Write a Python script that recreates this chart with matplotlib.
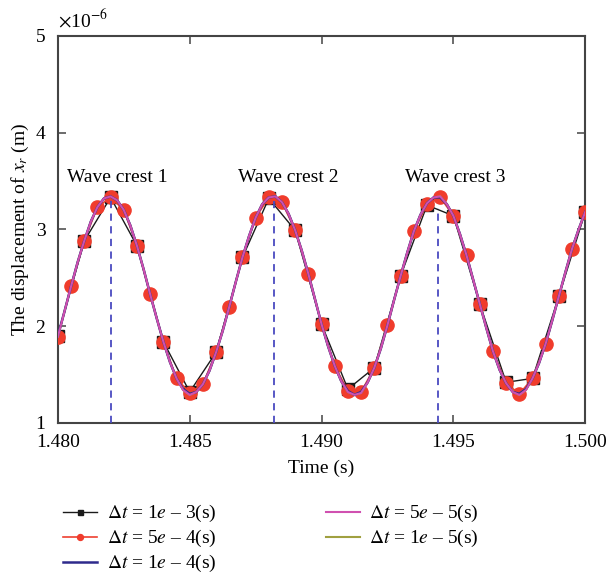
import matplotlib
matplotlib.use("Agg")
import matplotlib.pyplot as plt
import numpy as np

# Werte (x 10^-6 m)
t_grob = [1.480, 1.481, 1.482, 1.483, 1.484, 1.485, 1.486, 1.487, 1.488, 1.489, 1.490,
          1.491, 1.492, 1.493, 1.494, 1.495, 1.496, 1.497, 1.498, 1.499, 1.500]
x_1e3 = [1.90, 2.88, 3.33, 2.83, 1.84, 1.32, 1.73, 2.71, 3.32, 2.99, 2.02,
         1.35, 1.57, 2.52, 3.25, 3.14, 2.23, 1.42, 1.46, 2.31, 3.18]

t_mittel = [1.4800, 1.4805, 1.4810, 1.4815, 1.4820, 1.4825, 1.4830, 1.4835, 1.4840, 1.4845,
            1.4850, 1.4855, 1.4860, 1.4865, 1.4870, 1.4875, 1.4880, 1.4885, 1.4890, 1.4895,
            1.4900, 1.4905, 1.4910, 1.4915, 1.4920, 1.4925, 1.4930, 1.4935, 1.4940, 1.4945,
            1.4950, 1.4955, 1.4960, 1.4965, 1.4970, 1.4975, 1.4980, 1.4985, 1.4990, 1.4995,
            1.5000]
x_5e4 = [1.89, 2.41, 2.88, 3.23, 3.33, 3.20, 2.83, 2.33, 1.84, 1.46,
         1.31, 1.40, 1.73, 2.20, 2.71, 3.12, 3.33, 3.28, 2.99, 2.54,
         2.02, 1.59, 1.33, 1.32, 1.57, 2.01, 2.52, 2.98, 3.26, 3.33,
         3.14, 2.73, 2.23, 1.74, 1.41, 1.30, 1.46, 1.82, 2.31, 2.80,
         3.18]

t_fein = [1.48000, 1.48025, 1.48050, 1.48075, 1.48100, 1.48125, 1.48150, 1.48175, 1.48200,
          1.48225, 1.48250, 1.48275, 1.48300, 1.48325, 1.48350, 1.48375, 1.48400, 1.48425,
          1.48450, 1.48475, 1.48500, 1.48525, 1.48550, 1.48575, 1.48600, 1.48625, 1.48650,
          1.48675, 1.48700, 1.48725, 1.48750, 1.48775, 1.48800, 1.48825, 1.48850, 1.48875,
          1.48900, 1.48925, 1.48950, 1.48975, 1.49000, 1.49025, 1.49050, 1.49075, 1.49100,
          1.49125, 1.49150, 1.49175, 1.49200, 1.49225, 1.49250, 1.49275, 1.49300, 1.49325,
          1.49350, 1.49375, 1.49400, 1.49425, 1.49450, 1.49475, 1.49500, 1.49525, 1.49550,
          1.49575, 1.49600, 1.49625, 1.49650, 1.49675, 1.49700, 1.49725, 1.49750, 1.49775,
          1.49800, 1.49825, 1.49850, 1.49875, 1.49900, 1.49925, 1.49950, 1.49975, 1.50000]
x_1e4 = [1.90, 2.15, 2.41, 2.66, 2.88, 3.08, 3.23, 3.32, 3.34, 3.30, 3.20, 3.04, 2.83,
         2.59, 2.33, 2.08, 1.84, 1.63, 1.46, 1.35, 1.30, 1.32, 1.40, 1.54, 1.73, 1.95,
         2.20, 2.46, 2.71, 2.93, 3.12, 3.26, 3.33, 3.34, 3.28, 3.16, 2.99, 2.78, 2.54,
         2.28, 2.02, 1.79, 1.59, 1.43, 1.33, 1.29, 1.32, 1.42, 1.57, 1.77, 2.01, 2.27,
         2.52, 2.76, 2.98, 3.15, 3.27, 3.33, 3.33, 3.26, 3.14, 2.95, 2.73, 2.48, 2.23,
         1.98, 1.74, 1.55, 1.41, 1.32, 1.30, 1.35, 1.46, 1.62, 1.82, 2.06, 2.31, 2.56,
         2.80, 3.00, 3.18]
x_5e5 = [1.89, 2.15, 2.41, 2.66, 2.88, 3.08, 3.23, 3.32, 3.34, 3.30, 3.20, 3.04, 2.83,
         2.59, 2.33, 2.08, 1.84, 1.63, 1.46, 1.34, 1.29, 1.32, 1.40, 1.54, 1.73, 1.95,
         2.20, 2.46, 2.71, 2.93, 3.12, 3.26, 3.33, 3.34, 3.28, 3.16, 2.99, 2.78, 2.54,
         2.28, 2.02, 1.79, 1.59, 1.43, 1.32, 1.29, 1.31, 1.42, 1.57, 1.77, 2.01, 2.27,
         2.52, 2.76, 2.98, 3.15, 3.27, 3.33, 3.34, 3.26, 3.14, 2.95, 2.73, 2.48, 2.23,
         1.98, 1.74, 1.55, 1.41, 1.32, 1.29, 1.34, 1.46, 1.62, 1.82, 2.06, 2.31, 2.56,
         2.80, 3.00, 3.18]
x_1e5 = list(x_5e5)

# Wellenberge
t_berg = [1.4820, 1.4882, 1.4944]
x_berg = [3.33, 3.29, 3.22]
berg_text = ["Wave crest 1", "Wave crest 2", "Wave crest 3"]
t_text = [1.48224, 1.48873, 1.49507]

plt.rcParams["font.family"] = "Liberation Serif"
plt.rcParams["mathtext.fontset"] = "stix"

fig = plt.figure(figsize=(6.09, 5.77), dpi=100)
ax = fig.add_axes([0.095, 0.267, 0.866, 0.671])

# Daten plotten
ax.plot(t_grob, x_1e3, color="#1a1a1a", lw=1.0, marker="s", ms=8, mfc="#1a1a1a",
        label=r"$\Delta t$ = 1$e$ – 3(s)", zorder=2)
ax.plot(t_mittel, x_5e4, color="#ee4030", lw=1.2, marker="o", ms=9.5, mec="#f03c2c",
        mfc="#f03c2c", label=r"$\Delta t$ = 5$e$ – 4(s)", zorder=3)
ax.plot(t_fein, x_1e5, color="#a0a040", lw=1.5, label=r"$\Delta t$ = 1$e$ – 5(s)", zorder=4)
ax.plot(t_fein, x_1e4, color="#2e2a8c", lw=1.8, label=r"$\Delta t$ = 1$e$ – 4(s)", zorder=5)
ax.plot(t_fein, x_5e5, color="#d050b0", lw=1.5, label=r"$\Delta t$ = 5$e$ – 5(s)", zorder=6)

# vertikale Linien
for tb, xb in zip(t_berg, x_berg):
    ax.plot([tb, tb], [1, xb], color="#4a4ac0", lw=1.3, ls=(0, (4, 3)), zorder=7)
for tt, txt in zip(t_text, berg_text):
    ax.text(tt, 3.45, txt, ha="center", va="bottom", fontsize=14)

ax.set_xlim(1.480, 1.500)
ax.set_ylim(1, 5)
ax.set_xticks([1.480, 1.485, 1.490, 1.495, 1.500])
ax.set_xticklabels(["1.480", "1.485", "1.490", "1.495", "1.500"])
ax.set_yticks([1, 2, 3, 4, 5])
ax.tick_params(direction="in", top=True, right=True, labelsize=14, length=6, width=1.1,
               color="#444444")
ax.tick_params(axis="x", pad=8)
ax.tick_params(axis="y", pad=9)
for s in ax.spines.values():
    s.set_linewidth(1.5)
    s.set_color("#444444")

ax.set_xlabel("Time (s)", fontsize=14, labelpad=6)
ax.set_ylabel(r"The displacement of $x_r$ (m)", fontsize=14, labelpad=3)
ax.text(0.0, 1.012, r"$\times$10$^{-6}$", transform=ax.transAxes, fontsize=14,
        ha="left", va="bottom")

# Legende in Reihenfolge
h, l = ax.get_legend_handles_labels()
order = [0, 1, 3, 4, 2]
leg = fig.legend([h[i] for i in order], [l[i] for i in order], ncol=2, loc="upper left",
                 bbox_to_anchor=(0.075, 0.158), frameon=False, fontsize=14,
                 handlelength=1.75, handletextpad=0.5, columnspacing=5.6,
                 labelspacing=0.2, markerscale=0.45)

plt.savefig("out.png", dpi=100)
